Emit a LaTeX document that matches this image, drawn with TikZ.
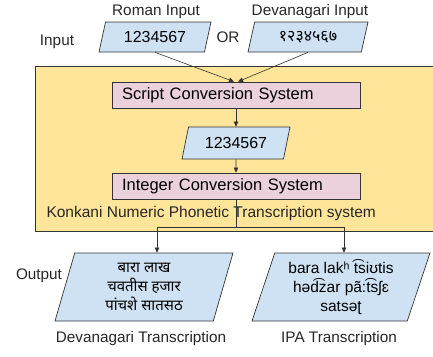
\documentclass[tikz,border=0pt]{standalone}
\usepackage{fontspec}
\setmainfont{Liberation Sans}
\newfontfamily\devfont[Script=Devanagari]{Noto Sans}
\usetikzlibrary{arrows.meta,shapes.geometric}
\definecolor{border}{HTML}{333333}
\definecolor{sysfill}{HTML}{FFE599}
\definecolor{pinkfill}{HTML}{EAD1DC}
\definecolor{bluefill}{HTML}{CFE2F3}
\tikzset{
  link/.style={line width=0.6pt, draw=border},
  arr/.style={link, -{Triangle[length=5pt,width=4.5pt]}},
  sysbox/.style={draw=border, line width=0.7pt, fill=sysfill},
  convbox/.style={draw=border, line width=0.7pt, fill=pinkfill, minimum width=248pt,
    minimum height=26pt, text width=228pt, align=left, inner xsep=10pt, font=\fontsize{16.5}{19}\selectfont},
  databox/.style={trapezium, trapezium left angle=70, trapezium right angle=110,
    trapezium stretches body, draw=border, line width=0.7pt, fill=bluefill, inner xsep=2pt,
    font=\fontsize{16}{19}\selectfont},
  lab/.style={font=\fontsize{15.3}{18}\selectfont, text=black!85}
}
\begin{document}
\begin{tikzpicture}[x=1pt,y=-1pt]
  \useasboundingbox (0,0) rectangle (433,356);
  % the system container
  \draw[sysbox] (35,66) rectangle (445,231);

  % inputs
  \node[lab] (romlab) at (156,12) {Roman Input};
  \node[lab] (devlab) at (310,12) {Devanagari Input};
  \node[lab] (inlab) at (57,42) {Input};
  \node[databox, minimum width=112pt, minimum height=30pt] (romin) at (155,37) {1234567};
  \node[lab] (orlab) at (228,37) {OR};
  \node[databox, minimum width=120pt, minimum height=30pt] (devin) at (308,37) {\devfont १२३४५६७};

  % conversion chain
  \node[convbox] (script) at (236,95) {Script Conversion System};
  \node[databox, minimum width=108pt, minimum height=32pt] (mid) at (236,143) {1234567};
  \node[convbox] (integer) at (236,186) {Integer Conversion System};
  \node[lab, anchor=west, font=\fontsize{15.5}{18}\selectfont] (sysname) at (43,213) {Konkani Numeric Phonetic Transcription system};

  \draw[arr] (romin.south) -- ([xshift=-2pt]script.north);
  \draw[arr] (devin.south) -- ([xshift=2pt]script.north);
  \draw[arr] (script) -- (mid);
  \draw[arr] (mid) -- (integer);

  % outputs
  \node[lab] (outlab) at (39,276) {Output};
  \node[databox, minimum width=178pt, minimum height=68pt, align=center,
    font=\devfont\fontsize{15}{19}\selectfont] (devout) at (144,287)
    {बारा लाख\\चवतीस हजार\\पांचशे सातसठ};
  \node[databox, minimum width=178pt, minimum height=68pt, align=center,
    font=\fontsize{15.5}{19}\selectfont] (ipaout) at (341,287)
    {bara lakʰ t͡siʊtis\\həd͡zar pã:t͡sʃɛ\\satsəʈ};
  \node[lab] (devtr) at (141,339) {Devanagari Transcription};
  \node[lab] (ipatr) at (339,339) {IPA Transcription};

  \coordinate (split) at (236,227);
  \coordinate (leftend) at (157,227);
  \coordinate (rightend) at (344,227);
  \draw[link] (integer.south) -- (split);
  \draw[link] (leftend) -- (rightend);
  \draw[arr] (leftend) -- (leftend |- devout.north);
  \draw[arr] (rightend) -- (rightend |- ipaout.north);
\end{tikzpicture}
\end{document}
